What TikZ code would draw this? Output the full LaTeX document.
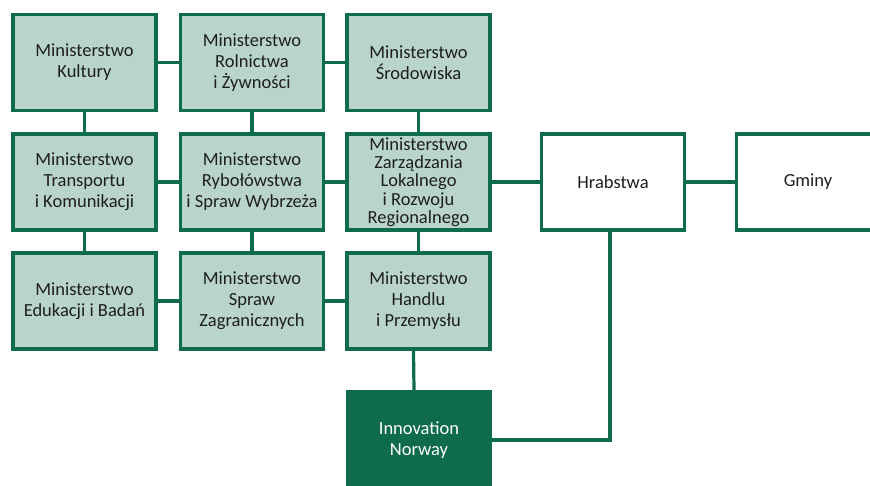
\documentclass[tikz,border=0pt]{standalone}
\usepackage{fontspec}
\setmainfont{Carlito}
\definecolor{darkgreen}{HTML}{0F6B4D}
\definecolor{lightgreen}{HTML}{B9D5CB}
\definecolor{textgray}{HTML}{1E1E1E}
\tikzset{
    box/.style={draw=darkgreen, line width=3.3pt, minimum width=143pt, minimum height=96pt,
        align=center, font=\fontsize{18.5}{21}\selectfont, text=textgray, inner sep=1pt},
    ministry/.style={box, fill=lightgreen},
    office/.style={box, fill=white},
    agency/.style={box, fill=darkgreen, text=white},
    link/.style={draw=darkgreen, line width=3.2pt}
}
\begin{document}
\begin{tikzpicture}[x=1pt, y=-1pt]
    \useasboundingbox (0, 0) rectangle (870, 486);
    \clip (0, 0) rectangle (870, 486);
    % ministries
    \node[ministry] (kultury)     at (84.5, 62.5) {Ministerstwo\\Kultury};
    \node[ministry] (rolnictwa)   at (252, 62.5)  {Ministerstwo\\Rolnictwa\\i Żywności};
    \node[ministry] (srodowiska)  at (418.5, 62.5) {Ministerstwo\\Środowiska};
    \node[ministry] (transportu)  at (84.5, 182)  {Ministerstwo\\Transportu\\i Komunikacji};
    \node[ministry] (rybolowstwa) at (252, 182)   {Ministerstwo\\Rybołówstwa\\i Spraw Wybrzeża};
    \node[ministry, font=\fontsize{18.5}{18.3}\selectfont] (zarzadzania) at (418.5, 182)
        {Ministerstwo\\Zarządzania\\Lokalnego\\i Rozwoju\\Regionalnego};
    \node[ministry] (edukacji)    at (84.5, 301)  {Ministerstwo\\Edukacji i Badań};
    \node[ministry] (zagranicznych) at (252, 301) {Ministerstwo\\Spraw\\Zagranicznych};
    \node[ministry] (handlu)      at (418.5, 301) {Ministerstwo\\Handlu\\i Przemysłu};
    % local government
    \node[office] (hrabstwa) at (613, 182) {Hrabstwa};
    \node[office] (gminy)    at (808, 182) {Gminy};
    % agency
    \node[agency] (innovation) at (419, 440) {Innovation\\Norway};
    % links
    \draw[link] (kultury) -- (rolnictwa);
    \draw[link] (rolnictwa) -- (srodowiska);
    \draw[link] (transportu) -- (rybolowstwa);
    \draw[link] (rybolowstwa) -- (zarzadzania);
    \draw[link] (edukacji) -- (zagranicznych);
    \draw[link] (zagranicznych) -- (handlu);
    \draw[link] (kultury) -- (transportu);
    \draw[link] (transportu) -- (edukacji);
    \draw[link] (rolnictwa) -- (rybolowstwa);
    \draw[link] (rybolowstwa) -- (zagranicznych);
    \draw[link] (srodowiska) -- (zarzadzania);
    \draw[link] (zarzadzania) -- (handlu);
    \draw[link] (zarzadzania) -- (hrabstwa);
    \draw[link] (hrabstwa) -- (gminy);
    \draw[link] ([xshift=-5pt]handlu.south) -- ([xshift=-5pt]innovation.north);
    \draw[link] ([xshift=-3pt]hrabstwa.south) |- (innovation.east);
\end{tikzpicture}
\end{document}
